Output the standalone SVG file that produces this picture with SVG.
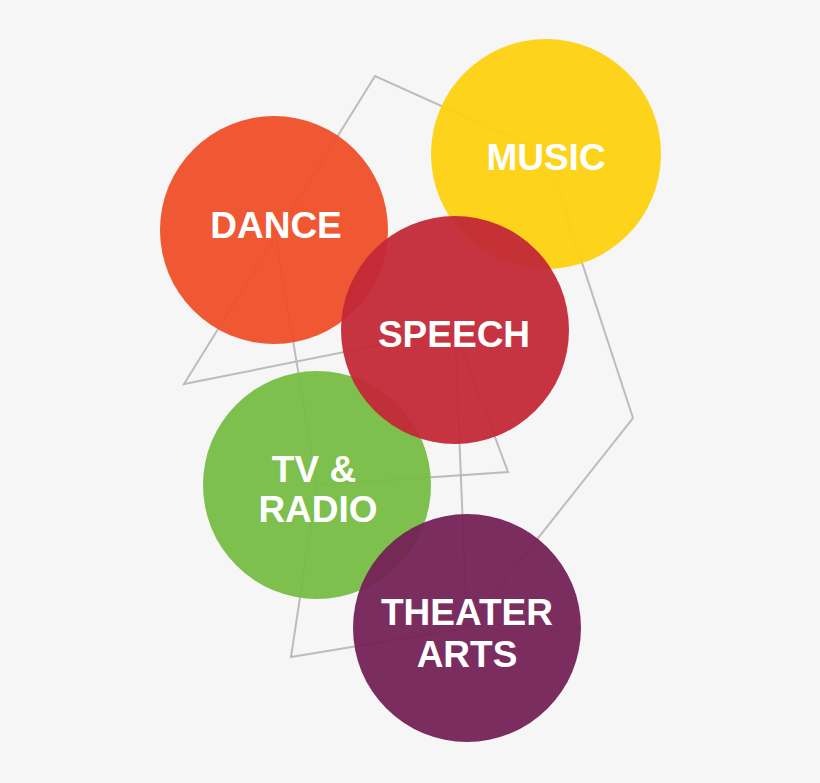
<svg xmlns="http://www.w3.org/2000/svg" width="820" height="783" viewBox="0 0 820 783">
<style>
.bg{fill:#f6f6f6}
.ln{fill:none;stroke:#bcbcbc;stroke-width:2;stroke-linejoin:miter}
.c{fill-opacity:0.95}
.t{font-family:"Liberation Sans",Arial,sans-serif;font-weight:bold;font-size:37px;fill:#ffffff;text-anchor:middle}
</style>
<rect class="bg" x="0" y="0" width="820" height="783"/>
<g id="connectors">
<polyline class="ln" points="546,153 375,76 184,384 455,330"/>
<polyline class="ln" points="276,238 317,485 291,657 467,628"/>
<polyline class="ln" points="455,330 508,472 317,485"/>
<polyline class="ln" points="455,330 467,628"/>
<polyline class="ln" points="546,153 633,418 467,628"/>
</g>
<g id="dance"><circle class="c" cx="274" cy="230" r="114" fill="#ee4f28"/><text class="t" x="276" y="238">DANCE</text></g>
<g id="music"><circle class="c" cx="546" cy="154" r="115" fill="#fdd20f"/><text class="t" x="546" y="170">MUSIC</text></g>
<g id="tv-radio"><circle class="c" cx="317" cy="485" r="114" fill="#76bd43"/><text class="t" x="314" y="482">TV &amp;</text><text class="t" x="318" y="522">RADIO</text></g>
<g id="speech"><circle class="c" cx="455" cy="330" r="114" fill="#c32837"/><text class="t" x="454" y="347">SPEECH</text></g>
<g id="theater-arts"><circle class="c" cx="467" cy="628" r="114" fill="#752256"/><text class="t" x="467" y="625">THEATER</text><text class="t" x="467" y="667">ARTS</text></g>
</svg>
